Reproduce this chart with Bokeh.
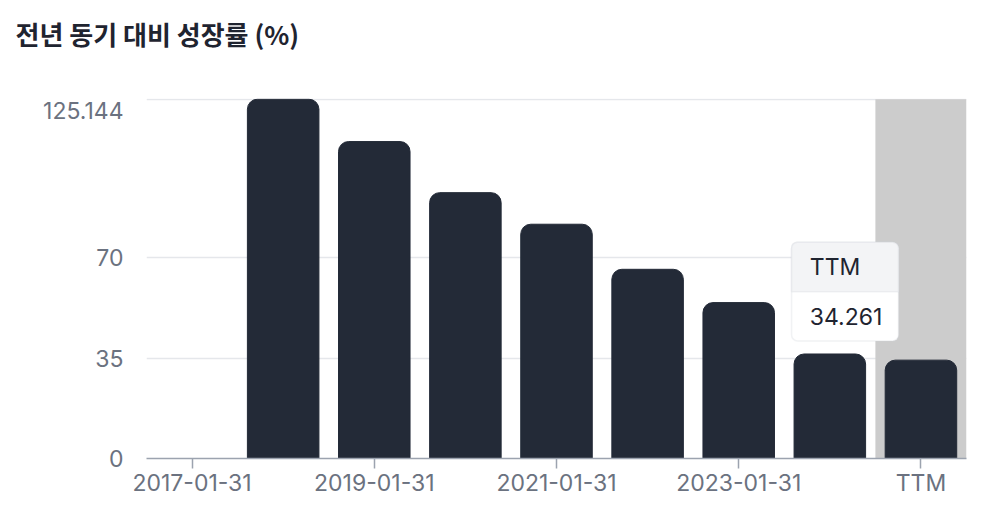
import math
from bokeh.plotting import figure
from bokeh.models import FixedTicker, BoxAnnotation, Label, Title
from bokeh.embed import file_html
from bokeh.resources import INLINE

title_text = "전년 동기 대비 성장률 (%)"
categories = ["2017-01-31", "2018-01-31", "2019-01-31", "2020-01-31",
              "2021-01-31", "2022-01-31", "2023-01-31", "2024-01-31", "TTM"]
growth = [float("nan"), 125.144, 110.4, 92.6, 81.6, 65.9, 54.3, 36.4, 34.261]
y_ticks = [0, 35, 70, 125.144]
x_tick_idx = [0, 2, 4, 6, 8]

xs = list(range(len(categories)))
ymax = max(v for v in growth if not math.isnan(v))

FONT = "Inter"
LABEL_COLOR = "#6b7280"
FS = "23px"

p = figure(width=984, height=510, output_backend="svg", toolbar_location=None,
           x_range=(-0.5, len(categories) - 0.5), y_range=(0, ymax * 1.002),
           min_border_left=146, min_border_right=18, min_border_top=98,
           min_border_bottom=52)
p.outline_line_color = None
p.background_fill_color = "white"

# title, with an empty spacer panel between it and the plot area
p.title.text = title_text
p.title.text_font = "Noto Sans CJK KR"
p.title.text_font_style = "bold"
p.title.text_font_size = "26px"
p.title.text_color = "#1f2430"
p.title.offset = -131
p.title.standoff = 0
p.add_layout(Title(text=" ", text_font_size="2px", standoff=43), "above")

# highlighted TTM band
ttm = len(categories) - 1
p.add_layout(BoxAnnotation(left=ttm - 0.5, right=ttm + 0.5, bottom=0, top=ymax,
                           fill_color="#cccccc", fill_alpha=1.0, line_color=None,
                           level="underlay"))

p.vbar(x=xs, top=growth, bottom=0, width=0.785, color="#232a37",
       border_radius=(10, 10, 0, 0))

# axes
p.xaxis.ticker = FixedTicker(ticks=x_tick_idx)
p.xaxis.major_label_overrides = {i: categories[i] for i in x_tick_idx}
p.xaxis.axis_line_color = "#9ca3af"
p.xaxis.axis_line_width = 1.5
p.xaxis.major_tick_line_color = "#9ca3af"
p.xaxis.major_tick_line_width = 1.5
p.xaxis.major_tick_out = 10
p.xaxis.major_tick_in = 0
p.xaxis.minor_tick_line_color = None
p.xaxis.major_label_text_font = FONT
p.xaxis.major_label_text_font_size = FS
p.xaxis.major_label_text_color = LABEL_COLOR
p.xaxis.major_label_standoff = 0

# the top label is drawn just below its gridline, as in the reference
top_label_pos = ymax - 3.8
label_ticks = [t for t in y_ticks if t != ymax] + [top_label_pos]
p.yaxis.ticker = FixedTicker(ticks=label_ticks)
overrides = {t: str(t) for t in y_ticks if t != ymax}
overrides[top_label_pos] = f"{ymax:.3f}"
p.yaxis.major_label_overrides = overrides
p.yaxis.axis_line_color = None
p.yaxis.major_tick_line_color = None
p.yaxis.minor_tick_line_color = None
p.yaxis.major_label_text_font = FONT
p.yaxis.major_label_text_font_size = FS
p.yaxis.major_label_text_color = LABEL_COLOR
p.yaxis.major_label_standoff = 17

p.xgrid.grid_line_color = None
p.ygrid.ticker = FixedTicker(ticks=[t for t in y_ticks if t > 0])
p.ygrid.grid_line_color = "#e5e7eb"
p.ygrid.grid_line_width = 1.5

# tooltip for TTM
tv = growth[ttm]
tip_left, tip_right = ttm - 1.42, ttm - 0.246
tip_bottom, tip_mid, tip_top = tv + 6.7, tv + 23.8, tv + 41.1
p.add_layout(BoxAnnotation(left=tip_left, right=tip_right, bottom=tip_bottom, top=tip_top,
                           fill_color="white", fill_alpha=1.0, line_color="#d1d5db",
                           line_width=1.5, border_radius=6, level="overlay"))
p.add_layout(BoxAnnotation(left=tip_left, right=tip_right, bottom=tip_mid, top=tip_top,
                           fill_color="#f3f4f6", fill_alpha=1.0, line_color="#d1d5db",
                           line_width=1.5, border_radius=(6, 6, 0, 0), level="overlay"))
p.add_layout(Label(x=tip_left + 0.2, y=(tip_mid + tip_top) / 2, text=categories[ttm],
                   text_font=FONT, text_font_size=FS, text_color="#1f2430",
                   text_baseline="middle", text_align="left", level="overlay"))
p.add_layout(Label(x=tip_left + 0.2, y=(tip_bottom + tip_mid) / 2, text=f"{tv:.3f}",
                   text_font=FONT, text_font_size=FS, text_color="#1f2430",
                   text_baseline="middle", text_align="left", level="overlay"))

open("out.html", "w").write(file_html(p, INLINE))
